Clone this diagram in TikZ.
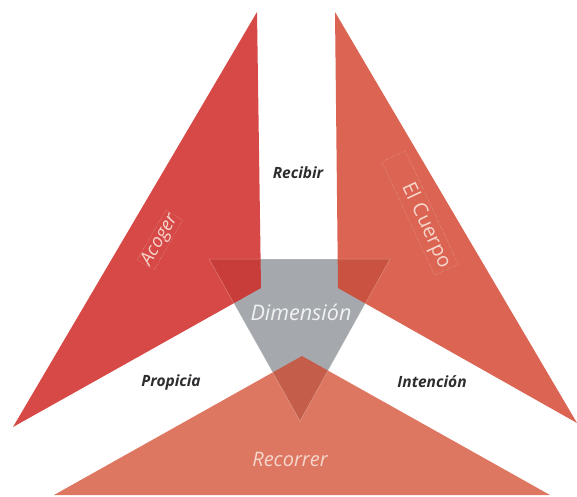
\documentclass[tikz,border=0pt]{standalone}
\usepackage{fontspec}
\setmainfont{Open Sans}
\usepackage{tikz}

\definecolor{acogercol}{RGB}{207,41,38}
\definecolor{cuerpocol}{RGB}{210,61,39}
\definecolor{recorrercol}{RGB}{209,66,38}
\definecolor{dimcol}{RGB}{165,169,173}
\definecolor{darktext}{RGB}{45,45,48}
\definecolor{palepink}{RGB}{247,214,204}

\begin{document}
\begin{tikzpicture}[x=1pt,y=-1pt]
	\tikzstyle{every node}+=[inner sep=2pt]
	\tikzstyle{darklabel}=[text=darktext,font=\fontsize{15.5}{18}\selectfont\bfseries\itshape]
	\tikzstyle{palelabel}=[text=palepink,font=\fontsize{20}{22}\selectfont\itshape]
	\tikzstyle{sidebox}=[draw=palepink,densely dotted,line width=0.3pt,text=palepink]
	\useasboundingbox (0,0) rectangle (577,496);
	% centre triangle
	\fill [dimcol] (209,259) -- (390,259) -- (300,421) -- cycle;
	% three arms
	\fill [acogercol,fill opacity=0.85] (257,12) -- (261,288) -- (13,427) -- cycle;
	\fill [cuerpocol,fill opacity=0.8] (335,12) -- (338,288) -- (577,423) -- cycle;
	\fill [recorrercol,fill opacity=0.72] (302,356) -- (550,495) -- (54,495) -- cycle;
	\draw [white,opacity=0.3,line width=0.5pt] (209,259) -- (390,259) -- (300,421) -- cycle;
	% labels
	\node [darklabel] (recibir) at (298,173) {Recibir};
	\node [darklabel] (propicia) at (171,382) {Propicia};
	\node [darklabel] (intencion) at (432,382) {Intención};
	\node [palelabel,text=white!85!dimcol,font=\fontsize{21.5}{24}\selectfont\itshape] (dimension) at (301,312) {Dimensión};
	\node [palelabel] (recorrer) at (290,459) {Recorrer};
	\node [sidebox,rotate=60,inner sep=1pt,font=\fontsize{18.5}{20}\selectfont\itshape] (acoger) at (160,240) {Acoger};
	\node [sidebox,rotate=-65,minimum height=20pt,text width=119pt,align=right,inner sep=3pt,font=\fontsize{20}{22}\selectfont] (cuerpo) at (420,213) {El Cuerpo};
\end{tikzpicture}
\end{document}
